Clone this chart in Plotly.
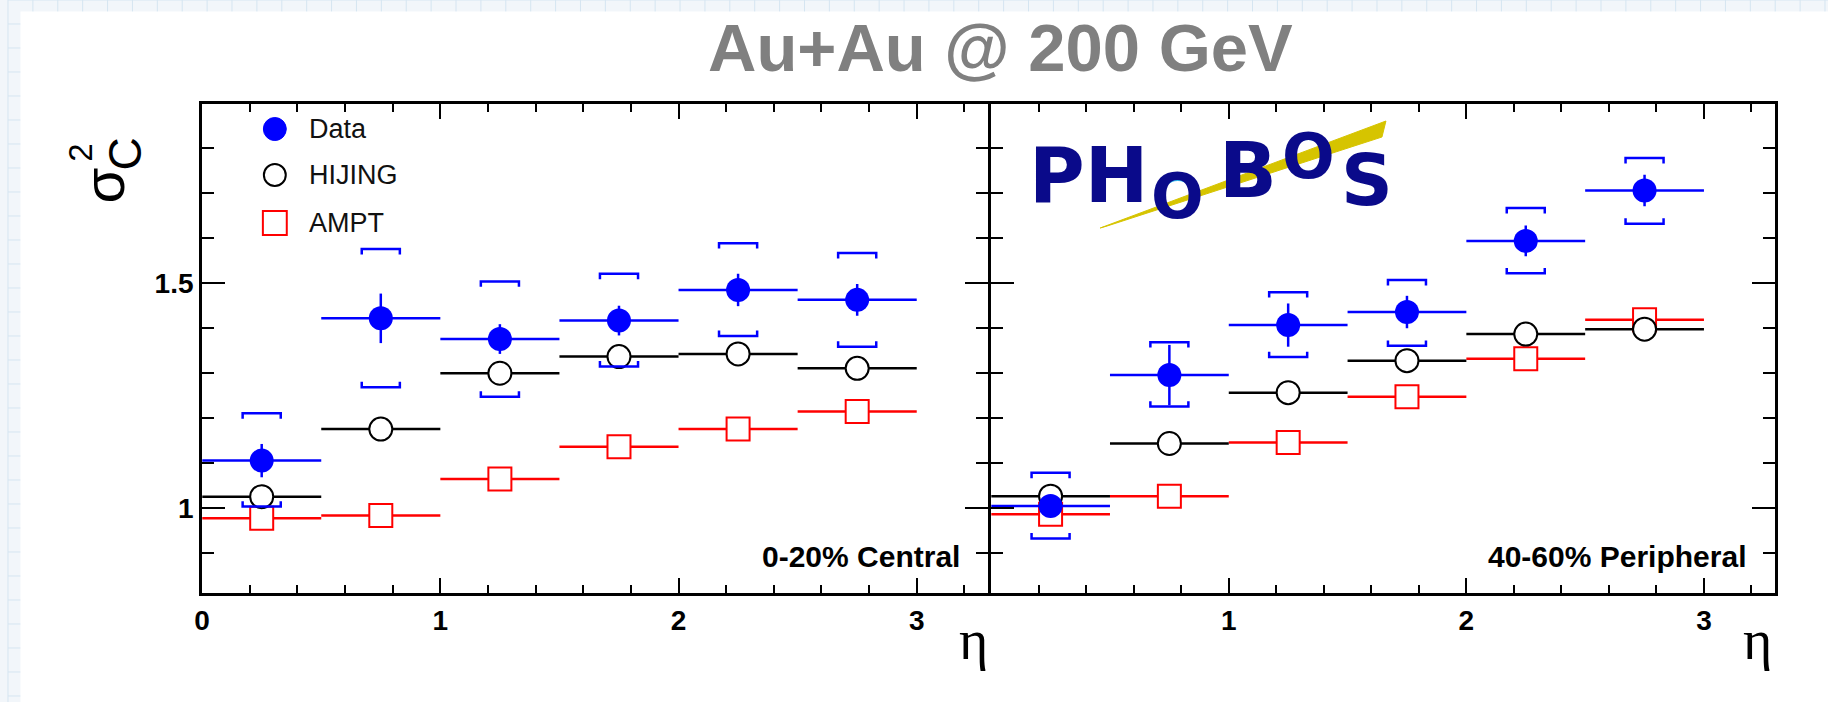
import plotly.graph_objects as go

W, H = 1828, 702

# ---------------- data ----------------
eta = [0.25, 0.75, 1.25, 1.75, 2.25, 2.75]
bin_half_width = 0.25

central_data = [1.106, 1.422, 1.376, 1.417, 1.485, 1.463]
central_stat = [0.037, 0.055, 0.033, 0.033, 0.036, 0.035]
central_sys_hi = [1.211, 1.576, 1.504, 1.521, 1.589, 1.567]
central_sys_lo = [1.004, 1.269, 1.248, 1.315, 1.383, 1.359]
central_hijing = [1.026, 1.176, 1.300, 1.337, 1.343, 1.311]
central_ampt = [0.978, 0.984, 1.065, 1.137, 1.176, 1.215]

peripheral_data = [1.005, 1.296, 1.407, 1.436, 1.594, 1.706]
peripheral_stat = [0.015, 0.067, 0.048, 0.036, 0.034, 0.035]
peripheral_sys_hi = [1.079, 1.369, 1.480, 1.507, 1.667, 1.778]
peripheral_sys_lo = [0.933, 1.226, 1.336, 1.361, 1.522, 1.632]
peripheral_hijing = [1.027, 1.144, 1.257, 1.328, 1.387, 1.398]
peripheral_ampt = [0.987, 1.027, 1.146, 1.248, 1.332, 1.419]

x_tick_left = [0, 1, 2, 3]
x_tick_right = [1, 2, 3]
y_tick_vals = [1, 1.5]
y_tick_text = ["1", "1.5"]

BLUE = "#0000ff"
RED = "#ff0000"
BLACK = "#000000"

fig = go.Figure()


def brackets(xs, hi, lo, w=0.08, d=0.012):
    bx, by = [], []
    for x, h, l in zip(xs, hi, lo):
        bx += [x - w, x - w, x + w, x + w, None]
        by += [h - d, h, h, h - d, None]
        bx += [x - w, x - w, x + w, x + w, None]
        by += [l + d, l, l, l + d, None]
    return bx, by


def add_panel(xa, ya, data, stat, hi, lo, hij, ampt):
    fig.add_trace(go.Scatter(
        x=eta, y=ampt, mode="markers", xaxis=xa, yaxis=ya, showlegend=False,
        marker=dict(symbol="square", size=23, color="white", line=dict(color=RED, width=2)),
        error_x=dict(type="constant", value=bin_half_width, width=0, thickness=2.5, color=RED)))
    fig.add_trace(go.Scatter(
        x=eta, y=hij, mode="markers", xaxis=xa, yaxis=ya, showlegend=False,
        marker=dict(symbol="circle", size=23, color="white", line=dict(color=BLACK, width=2)),
        error_x=dict(type="constant", value=bin_half_width, width=0, thickness=2.5, color=BLACK)))
    bx, by = brackets(eta, hi, lo)
    fig.add_trace(go.Scatter(
        x=bx, y=by, mode="lines", xaxis=xa, yaxis=ya, showlegend=False,
        line=dict(color=BLUE, width=2.5), hoverinfo="skip"))
    fig.add_trace(go.Scatter(
        x=eta, y=data, mode="markers", xaxis=xa, yaxis=ya, showlegend=False,
        marker=dict(symbol="circle", size=24, color=BLUE),
        error_x=dict(type="constant", value=bin_half_width, width=0, thickness=2.5, color=BLUE),
        error_y=dict(type="data", array=stat, width=0, thickness=2.5, color=BLUE)))


add_panel("x", "y", central_data, central_stat, central_sys_hi, central_sys_lo,
          central_hijing, central_ampt)
add_panel("x2", "y2", peripheral_data, peripheral_stat, peripheral_sys_hi, peripheral_sys_lo,
          peripheral_hijing, peripheral_ampt)

TICKFONT = dict(family="Liberation Sans, Arial, sans-serif", size=28, color="black", weight="bold")

LW = 3
x_left, x_mid_l, x_mid_r, x_right = 195 / W, (986 - LW / 2) / W, (986 + LW / 2) / W, 1775 / W
y_bot, y_top = 1 - 593 / H, 1 - 104 / H

xcommon = dict(range=[0, 3.3], showline=True, linecolor="black", linewidth=LW, mirror="allticks",
               ticks="inside", ticklen=15, tickwidth=2, tickcolor="black", showgrid=False,
               zeroline=False, tickfont=TICKFONT, tickmode="array",
               minor=dict(ticks="inside", tick0=0, dtick=0.2, ticklen=8, tickwidth=2,
                          tickcolor="black", showgrid=False))
ycommon = dict(range=[0.812, 1.898], showline=True, linecolor="black", linewidth=LW, mirror="allticks",
               ticks="inside", ticklen=23, tickwidth=2, tickcolor="black", showgrid=False,
               zeroline=False, tickfont=TICKFONT, tickmode="array",
               tickvals=y_tick_vals, ticktext=y_tick_text,
               domain=[y_bot, y_top],
               minor=dict(ticks="inside", tick0=0, dtick=0.1, ticklen=12, tickwidth=2,
                          tickcolor="black", showgrid=False))

fig.update_layout(
    width=W, height=H, autosize=False,
    margin=dict(l=0, r=0, t=0, b=0),
    paper_bgcolor="#f2f6fa", plot_bgcolor="white",
    xaxis=dict(xcommon, domain=[x_left, x_mid_l], anchor="y", tickvals=x_tick_left),
    xaxis2=dict(xcommon, domain=[x_mid_r, x_right], anchor="y2", tickvals=x_tick_right),
    yaxis=dict(ycommon, anchor="x"),
    yaxis2=dict(ycommon, anchor="x2", showticklabels=False),
    showlegend=False,
)


def px(x):
    return x / W


def py(y):
    return 1 - y / H


shapes = []
# faint graph-paper background
for gx in range(0, W, 25):
    shapes.append(dict(type="line", xref="paper", yref="paper", x0=px(gx), x1=px(gx), y0=0, y1=1,
                       line=dict(color="#d5e5f1", width=1), layer="below"))
for gy in range(0, H, 24):
    shapes.append(dict(type="line", xref="paper", yref="paper", x0=0, x1=1, y0=py(gy), y1=py(gy),
                       line=dict(color="#d5e5f1", width=1), layer="below"))
shapes.append(dict(type="rect", xref="paper", yref="paper", x0=px(12.5), x1=1, y0=0, y1=py(11.5),
                   fillcolor="white", line=dict(width=0), layer="below"))

# legend keys
shapes.append(dict(type="circle", xref="paper", yref="paper", x0=px(256.5), x1=px(279.5),
                   y0=py(140.5), y1=py(117.5), fillcolor=BLUE, line=dict(color=BLUE, width=1)))
shapes.append(dict(type="circle", xref="paper", yref="paper", x0=px(257), x1=px(279),
                   y0=py(186), y1=py(164), fillcolor="rgba(0,0,0,0)", line=dict(color=BLACK, width=2)))
shapes.append(dict(type="rect", xref="paper", yref="paper", x0=px(256), x1=px(280),
                   y0=py(235), y1=py(211), fillcolor="rgba(0,0,0,0)", line=dict(color=RED, width=2)))

# PHOBOS logo approximation
shapes.append(dict(type="path", xref="paper", yref="paper",
                   path=f"M {px(1097)} {py(228)} L {px(1384)} {py(121)} L {px(1380)} {py(137)} L {px(1104)} {py(226)} Z",
                   fillcolor="#d6c400", line=dict(color="#d6c400", width=1)))
for cx, cy, r in [(1175, 197, 17), (1306, 156, 17)]:
    shapes.append(dict(type="circle", xref="paper", yref="paper", x0=px(cx - r), x1=px(cx + r),
                       y0=py(cy + r), y1=py(cy - r), line=dict(color="#33bbee", width=2)))

fig.update_layout(shapes=shapes)

ann = []
ann.append(dict(text="Au+Au @ 200 GeV", x=px(997), y=py(48), xref="paper", yref="paper",
                showarrow=False, xanchor="center", yanchor="middle",
                font=dict(family="Liberation Sans, Arial, sans-serif",
                          size=67, color="#808080", weight="bold")))
# y-axis title sigma_C^2 (rotated, with stacked super/subscript)
ann.append(dict(text="σ", x=px(96), y=py(186), xref="paper", yref="paper",
                showarrow=False, textangle=-90, xanchor="center", yanchor="middle",
                font=dict(family="Liberation Sans, Arial, sans-serif", size=58, color="black")))
ann.append(dict(text="2", x=px(72), y=py(153), xref="paper", yref="paper",
                showarrow=False, textangle=-90, xanchor="center", yanchor="middle",
                font=dict(family="Liberation Sans, Arial, sans-serif", size=33, color="black")))
ann.append(dict(text="C", x=px(118), y=py(154), xref="paper", yref="paper",
                showarrow=False, textangle=-90, xanchor="center", yanchor="middle",
                font=dict(family="Liberation Sans, Arial, sans-serif", size=46, color="black")))
for xe in (970, 1757):
    ann.append(dict(text="η", x=px(xe), y=py(640), xref="paper", yref="paper", showarrow=False,
                    xanchor="center", yanchor="middle",
                    font=dict(family="Liberation Serif, serif", size=56, color="black")))
ann.append(dict(text="0-20% Central", x=px(958), y=py(556), xref="paper", yref="paper",
                showarrow=False, xanchor="right", yanchor="middle",
                font=dict(family="Liberation Sans, Arial, sans-serif", size=30, color="black", weight="bold")))
ann.append(dict(text="40-60% Peripheral", x=px(1748), y=py(556), xref="paper", yref="paper",
                showarrow=False, xanchor="right", yanchor="middle",
                font=dict(family="Liberation Sans, Arial, sans-serif", size=30, color="black", weight="bold")))
for lab, ly in [("Data", 129), ("HIJING", 175), ("AMPT", 223)]:
    ann.append(dict(text=lab, x=px(300), y=py(ly), xref="paper", yref="paper", showarrow=False,
                    xanchor="left", yanchor="middle",
                    font=dict(family="Liberation Sans, Arial, sans-serif", size=27, color="#111111")))
for ch, cx, cy, sz in [("PH", 1085, 175, 76), ("O", 1175, 197, 62),
                       ("B", 1245, 170, 76), ("O", 1306, 156, 62), ("S", 1365, 180, 72)]:
    ann.append(dict(text=ch, x=px(cx), y=py(cy), xref="paper", yref="paper", showarrow=False,
                    xanchor="center", yanchor="middle",
                    font=dict(family="DejaVu Sans, sans-serif", size=sz, color="#0a0a8a", weight="bold")))
fig.update_layout(annotations=ann)

fig.write_html("out.html", config={"displayModeBar": False},
               post_script="document.body.style.margin='0';document.body.style.overflow='hidden';")
